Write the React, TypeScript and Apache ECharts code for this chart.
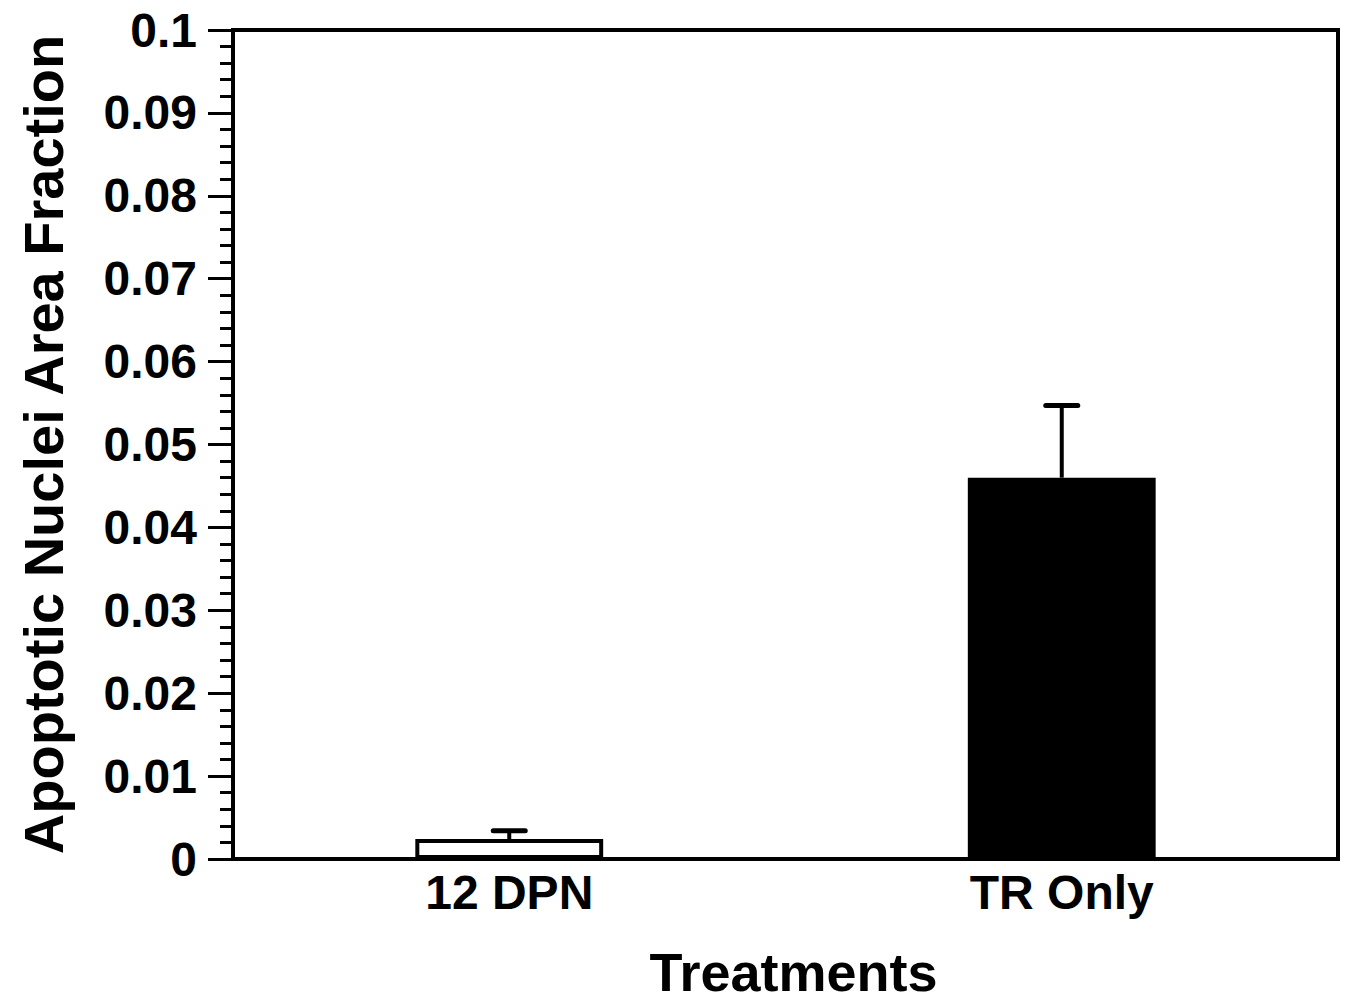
import React, { useEffect, useRef } from "react";
import * as echarts from "echarts";

const categories = ["12 DPN", "TR Only"];
const means = [0.0024, 0.046];
const errorTops = [0.0034, 0.0547];
const barColors = ["#ffffff", "#000000"];
const yTicks = [0, 0.01, 0.02, 0.03, 0.04, 0.05, 0.06, 0.07, 0.08, 0.09, 0.1];

const FONT = "'Liberation Sans', Arial, Helvetica, sans-serif";

export default function App() {
  const ref = useRef<HTMLDivElement>(null);
  useEffect(() => {
    if (!ref.current) return;
    const chart = echarts.init(ref.current, undefined, { renderer: "svg" });
    const option = {
      animation: false,
      backgroundColor: "#ffffff",
      grid: {
        left: 233,
        right: 7,
        top: 30,
        bottom: 142,
        show: true,
        borderColor: "#000",
        borderWidth: 4,
        backgroundColor: "transparent",
      },
      xAxis: {
        type: "category",
        data: categories,
        axisLine: { show: true, lineStyle: { color: "#000", width: 4 } },
        axisTick: { show: false },
        axisLabel: {
          color: "#000",
          fontFamily: FONT,
          fontWeight: "bold",
          fontSize: 48,
          margin: 9,
        },
        name: "Treatments",
        nameLocation: "middle",
        nameGap: 86,
        nameTextStyle: {
          color: "#000",
          fontFamily: FONT,
          fontWeight: "bold",
          fontSize: 54,
          padding: [0, 0, 0, 16],
        },
      },
      yAxis: {
        type: "value",
        min: yTicks[0],
        max: yTicks[yTicks.length - 1],
        interval: 0.01,
        axisLine: { show: true, lineStyle: { color: "#000", width: 4 } },
        axisTick: { show: true, inside: false, length: 25, lineStyle: { color: "#000", width: 3 } },
        minorTick: { show: true, splitNumber: 5, length: 13, lineStyle: { color: "#000", width: 3 } },
        splitLine: { show: false },
        axisLabel: {
          color: "#000",
          fontFamily: FONT,
          fontWeight: "bold",
          fontSize: 48,
          margin: 36,
          formatter: (v: number) => {
            const r = Math.round(v * 100) / 100;
            return r === 0 ? "0" : String(r);
          },
        },
        name: "Apoptotic Nuclei Area Fraction",
        nameLocation: "middle",
        nameGap: 162,
        nameTextStyle: {
          color: "#000",
          fontFamily: FONT,
          fontWeight: "bold",
          fontSize: 56,
        },
      },
      series: [
        {
          type: "bar",
          barWidth: "34%",
          data: means.map((v, i) => ({
            value: v,
            itemStyle: { color: barColors[i], borderColor: "#000", borderWidth: 4 },
          })),
        },
        {
          type: "custom",
          z: 1,
          data: categories.map((c, i) => [i, means[i], errorTops[i]]),
          renderItem: (params: any, api: any) => {
            const x = api.value(0);
            const base = api.coord([x, api.value(1)]);
            const top = api.coord([x, api.value(2)]);
            const half = 16;
            return {
              type: "group",
              children: [
                {
                  type: "line",
                  shape: { x1: base[0], y1: base[1], x2: top[0], y2: top[1] },
                  style: { stroke: "#000", lineWidth: 4 },
                },
                {
                  type: "line",
                  shape: { x1: top[0] - half, y1: top[1], x2: top[0] + half, y2: top[1] },
                  style: { stroke: "#000", lineWidth: 5, lineCap: "round" },
                },
              ],
            };
          },
        },
      ],
    };
    chart.setOption(option as any);
    return () => chart.dispose();
  }, []);
  return (
    <div
      ref={ref}
      style={{ position: "absolute", left: 0, top: 0, width: 1345, height: 1004 }}
    />
  );
}
